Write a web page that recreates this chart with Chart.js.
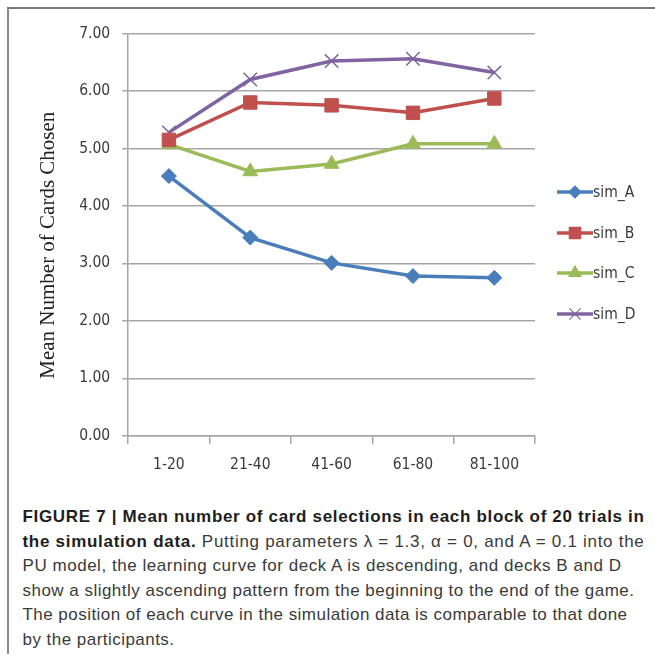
<!DOCTYPE html>
<html>
<head>
<meta charset="utf-8">
<script src="https://cdn.jsdelivr.net/npm/chart.js@4.4.1/dist/chart.umd.min.js"></script>
<style>
  html, body { margin: 0; padding: 0; background: #fff; }
  body { width: 655px; height: 662px; position: relative; overflow: hidden; }
  #frame { position: absolute; left: 7px; top: 7px; width: 700px; height: 645px;
           border-top: 2px solid #777; border-left: 2px solid #8a8a8a; }
  #wrap { position: absolute; left: 0; top: 0; width: 655px; height: 490px; }
  #legend { position: absolute; left: 557px; top: 172px; font-family: "DejaVu Sans Condensed", sans-serif;
            font-size: 15.5px; color: #3a3a3a; }
  #legend div { height: 40.5px; display: flex; align-items: center; }
  .cap { position: absolute; left: 22.5px; width: 700px; font-family: "Liberation Sans", Arial, sans-serif;
         font-size: 17px; line-height: 24.5px; color: #3a3a3a; white-space: nowrap; }
  .cap b { color: #1e1e1e; }
</style>
</head>
<body>
<div id="frame"></div>
<div id="wrap"><canvas id="myChart" width="655" height="490"></canvas></div>
<div id="legend"></div>
<div class="cap" style="top:505px"><span data-w="622"><b>FIGURE 7 | Mean number of card selections in each block of 20 trials in</b></span></div>
<div class="cap" style="top:529.5px"><span data-w="622"><b>the simulation data.</b> Putting parameters &lambda; = 1.3, &alpha; = 0, and A = 0.1 into the</span></div>
<div class="cap" style="top:554px"><span data-w="599">PU model, the learning curve for deck A is descending, and decks B and D</span></div>
<div class="cap" style="top:578.5px"><span data-w="612">show a slightly ascending pattern from the beginning to the end of the game.</span></div>
<div class="cap" style="top:603px"><span data-w="605">The position of each curve in the simulation data is comparable to that done</span></div>
<div class="cap" style="top:627.5px"><span data-w="152">by the participants.</span></div>
<script>
const blocks = ['1-20', '21-40', '41-60', '61-80', '81-100'];
const simA = [4.52, 3.45, 3.01, 2.78, 2.75];
const simB = [5.15, 5.80, 5.75, 5.62, 5.87];
const simC = [5.07, 4.60, 4.73, 5.08, 5.08];
const simD = [5.28, 6.20, 6.52, 6.56, 6.32];
const seriesNames = ['sim_A', 'sim_B', 'sim_C', 'sim_D'];

const colors = ['#4a7ebb', '#c0504d', '#9bbb59', '#8064a2'];
const markers = ['rectRot', 'rect', 'triangle', 'crossRot'];
const markerSizes = [7.5, 9.5, 8.5, 9.5];

const tickFont = { family: '"DejaVu Sans Condensed", sans-serif', size: 15.5 };

function makeSet(label, data, i) {
    return {
        label: label,
        data: data,
        borderColor: colors[i],
        backgroundColor: colors[i],
        borderWidth: 3.5,
        pointStyle: markers[i],
        pointRadius: markerSizes[i],
        pointBorderWidth: markers[i] === 'crossRot' ? 1.5 : 1,
        pointBorderColor: colors[i],
        tension: 0,
    };
}

const ctx = document.getElementById('myChart');
new Chart(ctx, {
    type: 'line',
    data: {
        labels: blocks,
        datasets: [
            makeSet(seriesNames[0], simA, 0),
            makeSet(seriesNames[1], simB, 1),
            makeSet(seriesNames[2], simC, 2),
            makeSet(seriesNames[3], simD, 3),
        ],
    },
    options: {
        responsive: false,
        animation: false,
        layout: { padding: { left: 36, right: 120, top: 33.5, bottom: 3.5 } },
        scales: {
            x: {
                offset: true,
                grid: { offset: true, drawOnChartArea: false, tickLength: 8, color: '#a6a6a6', lineWidth: 1.5 },
                border: { color: '#a6a6a6', width: 1.5 },
                ticks: { font: tickFont, color: '#3a3a3a', padding: 12 },
            },
            y: {
                min: 0,
                max: 7,
                ticks: { stepSize: 1, font: tickFont, color: '#3a3a3a', padding: 12,
                         callback: v => v.toFixed(2) },
                grid: { color: '#a6a6a6', lineWidth: 1.5, tickLength: 6 },
                border: { color: '#a6a6a6', width: 1.5 },
                // trailing no-break spaces nudge the title a little lower, as in the figure
                title: { display: true, text: 'Mean Number of Cards Chosen\u00a0\u00a0\u00a0\u00a0',
                         font: { family: '"Liberation Serif", "Times New Roman", serif', size: 21 },
                         color: '#222', padding: { top: 0, bottom: 6 } },
            },
        },
        plugins: {
            legend: { display: false },
            tooltip: { enabled: false },
        },
    },
});

// legend built by hand so the icons show line + marker like the original
const legendBox = document.getElementById('legend');
seriesNames.forEach((name, i) => {
    const row = document.createElement('div');
    const icon = document.createElement('canvas');
    icon.width = 36; icon.height = 20;
    const g = icon.getContext('2d');
    g.strokeStyle = colors[i];
    g.fillStyle = colors[i];
    g.lineWidth = 3.5;
    g.beginPath(); g.moveTo(0, 10); g.lineTo(36, 10); g.stroke();
    g.lineWidth = 1.2;
    Chart.helpers.drawPoint(g, { pointStyle: markers[i], radius: markerSizes[i] - 1.5, rotation: 0, borderWidth: 1.2 }, 18, 10);
    row.appendChild(icon);
    const txt = document.createElement('span');
    txt.textContent = name;
    row.appendChild(txt);
    legendBox.appendChild(row);
});

// stretch each caption line to the width it has in the figure
document.querySelectorAll('.cap span').forEach(line => {
    const target = parseFloat(line.dataset.w);
    const w = line.getBoundingClientRect().width;
    const n = line.textContent.length;
    line.style.letterSpacing = ((target - w) / n) + 'px';
});
</script>
</body>
</html>
